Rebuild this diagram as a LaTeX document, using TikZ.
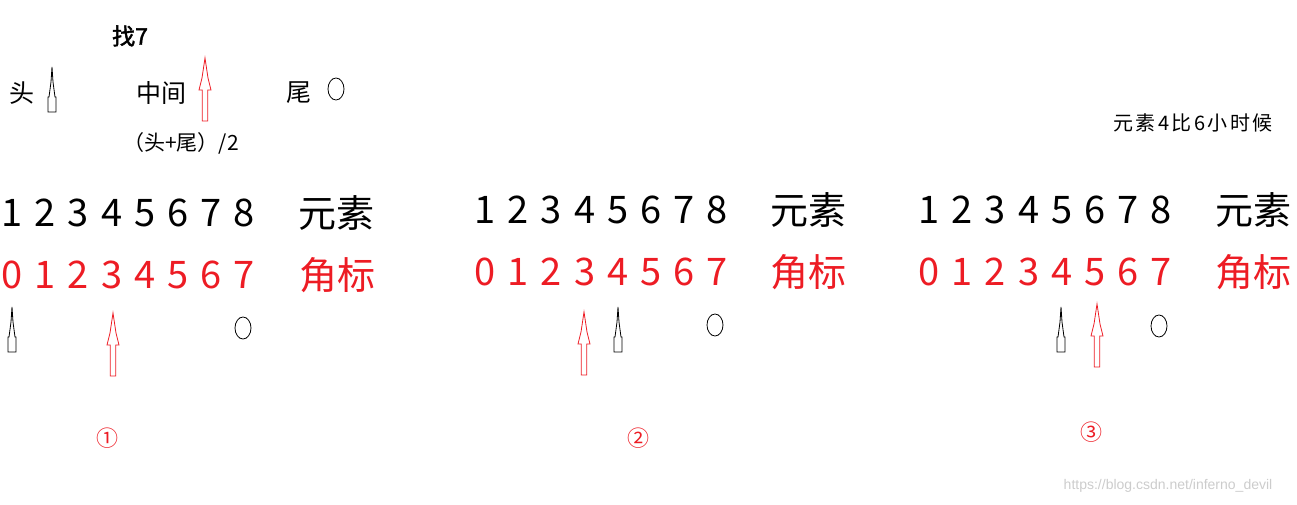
\documentclass[tikz,border=0pt]{standalone}
\usepackage{fontspec}
\setmainfont{Noto Sans CJK SC}[AutoFakeBold=2]
\newfontfamily\markfont{Liberation Sans}
\usetikzlibrary{shapes.geometric}
\definecolor{idxred}{RGB}{237,28,36}

\tikzset{
  elem/.style={font=\fontsize{38}{40}\selectfont, inner sep=0pt},
  idx/.style={elem, text=idxred},
  note/.style={font=\fontsize{25}{28}\selectfont, inner sep=0pt},
  small/.style={font=\fontsize{21}{24}\selectfont, inner sep=0pt},
  step no/.style={font=\fontsize{22}{24}\selectfont, text=idxred, inner sep=0pt},
  tailmark/.style={draw, ellipse, minimum width=16pt, minimum height=22pt, inner sep=0pt, line width=0.8pt},
  headptr/.pic={
    \draw[line width=0.8pt] (0,0) -- (-1,15) -- (-3,30) -- (-4,30) -- (-4,45)
      -- (4,45) -- (4,30) -- (3,30) -- (1,15) -- cycle;
  },
  midarrow/.pic={
    \draw[idxred, line width=0.8pt] (0,0) -- (-3,20) -- (-6,32) -- (-2.7,32) -- (-2.7,63)
      -- (2.7,63) -- (2.7,32) -- (6,32) -- (3,20) -- cycle;
  },
}

\begin{document}
\begin{tikzpicture}[x=1pt, y=-1pt]
    \useasboundingbox (0,0) rectangle (1297,505);

    % legend
    \node[inner sep=0pt, font=\fontsize{23}{26}\selectfont\bfseries] (goal) at (130,36) {找7};
    \node[note] (headtxt) at (22,93) {头};
    \pic (headkey) at (52,67) {headptr};
    \node[note] (midtxt) at (161,93) {中间};
    \pic (midkey) at (205,58) {midarrow};
    \node[note] (tailtxt) at (299,93) {尾};
    \node[tailmark] (tailkey) at (336,89) {};
    \node[small] (formula) at (181,143) {（头+尾）/2};

    % rows of elements and indices
    \foreach \p/\x/\y in {1/12/213, 2/485/210, 3/929/210} {
      \foreach \k in {0,...,7} {
        \pgfmathtruncatemacro\d{\k+1}
        \node[elem] (e\p\k) at ({\x+33.2*\k},\y) {\d};
        \node[idx] (i\p\k) at ({\x+33.2*\k},{\y+62}) {\k};
      }
    }
    \node[elem] (elem1) at (336,213) {元素};
    \node[idx] (idx1) at (337,275) {角标};
    \node[elem] (elem2) at (808,210) {元素};
    \node[idx] (idx2) at (808,272) {角标};
    \node[elem] (elem3) at (1253,210) {元素};
    \node[idx] (idx3) at (1253,272) {角标};

    % step 1
    \pic (head1) at (12,307) {headptr};
    \pic (mid1) at (113,313) {midarrow};
    \node[tailmark] (tail1) at (243,328) {};
    \node[step no] (s1) at (107,438) {①};

    % step 2
    \pic (mid2) at (584,312) {midarrow};
    \pic (head2) at (618,307) {headptr};
    \node[tailmark] (tail2) at (715,325) {};
    \node[step no] (s2) at (638,438) {②};

    % step 3
    \node[inner sep=0pt, font=\fontsize{20}{22}\selectfont\addfontfeature{LetterSpace=12}] (cond) at (1193,123) {元素4比6小时候};
    \pic (head3) at (1061,307) {headptr};
    \pic (mid3) at (1097,304) {midarrow};
    \node[tailmark] (tail3) at (1159,326) {};
    \node[step no] (s3) at (1091,432) {③};

    \node[font=\markfont\fontsize{14}{16}\selectfont, text=gray!40, inner sep=0pt] (wm) at (1168,486) {https://blog.csdn.net/inferno\_devil};
\end{tikzpicture}
\end{document}
